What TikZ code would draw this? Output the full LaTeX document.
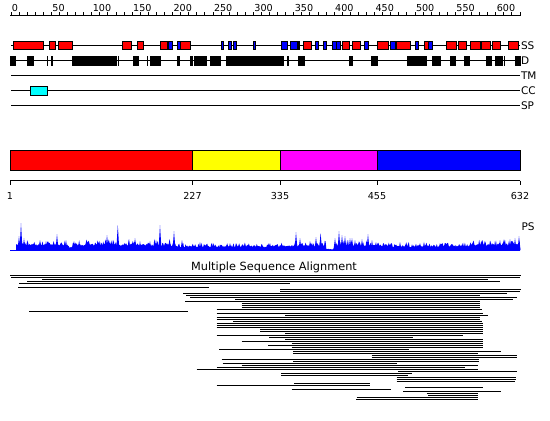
\documentclass[tikz,border=0pt]{standalone}
\usepackage{fontspec}
\setmainfont{DejaVu Sans}
\definecolor{mag}{RGB}{255,0,255}
\definecolor{cyn}{RGB}{0,255,255}
\definecolor{rd}{RGB}{255,0,0}
\definecolor{bl}{RGB}{0,0,255}
\definecolor{yl}{RGB}{255,255,0}
\begin{document}
\begin{tikzpicture}[x=1pt,y=-1pt,line width=1pt,
  lbl/.style={inner sep=0pt,font=\fontsize{9.6}{11}\selectfont},
  featlbl/.style={inner sep=0pt,font=\fontsize{10.5}{12}\selectfont,anchor=west},
  ssbox/.style={draw=black,line width=1pt},
  msa/.style={draw=black,line width=1pt},
  declare function={mfac(\t)=1+0.15*(\t<170)-0.2*(\t>170)*(\t<290)-0.15*(\t>380)*(\t<470)+0.15*(\t>470)-0.85*(abs(\t-330)<4)-0.6*(abs(\t-70)<2);}
]
\useasboundingbox (0,0) rectangle (550,421);
\fill[white] (0,0) rectangle (550,421);

% ---- top ruler
\draw (10,15.5) -- (521,15.5);
\foreach \r in {0,10,...,630} \draw ({11+\r*0.808},12) -- ({11+\r*0.808},15.5);
\foreach \r in {0,50,...,600} \node[lbl,anchor=base west] (rl\r) at ({11.5+\r*0.808},11.5) {\r};

% ---- feature tracks
\foreach \y in {45.5,60.5,75.5,90.5,105.5} \draw (11,\y) -- (520,\y);
% SS helices (red)
\foreach \a/\b in {13.3/43.3,49.3/55.3,58.7/72.3,122.7/131.7,137.3/143.7,160.3/167.7,180/190.3,303/311.5,342.3/349.5,352.3/360.5,377.5/388.5,396.5/410.5,424/428.3,446.5/456,458/466.5,470.5/480.5,481/490,492/500.5,508.5/518}
  \filldraw[ssbox,fill=rd] (\a,41) rectangle (\b,49.5);
% SS strands (blue)
\foreach \a/\b in {168.3/172,177.7/180,221.3/223.5,228.3/231.3,233.3/236.3,253.3/255.5,281.7/287.5,290.7/297,298/299.3,315.3/318.7,323.3/326.5,332.3/336,336/340.5,364.3/368.7,390/395,415.7/418.5,428.3/432.3}
  \filldraw[ssbox,fill=bl] (\a,41) rectangle (\b,49.5);
% Disorder (black)
\foreach \a/\b in {10/15.7,27.3/33.7,47/47.7,51/52.7,72.3/116.7,118/118.7,133.3/138.7,147/147.7,150/160,177.3/179,190/192.7,194.3/206.7,210/215,215.7/220,226/230,230.7/283.5,287.3/288.5,298.3/304.7,349.2/352.7,371/377,407/415.3,415.7/426.7,432/440.5,450/455.7,464.5/469.3,486/491,495.5/502.5,504/504.7,515/520}
  \filldraw[ssbox,fill=black] (\a,56) rectangle (\b,65);
% coiled coil
\filldraw[ssbox,fill=cyn] (30.5,86.5) rectangle (47.5,95);

\node[featlbl] (lss) at (520.5,45.5) {SS};
\node[featlbl] (ld) at (520.5,60.5) {D};
\node[featlbl] (ltm) at (520.5,75.5) {TM};
\node[featlbl] (lcc) at (520.5,90.5) {CC};
\node[featlbl] (lsp) at (520.5,105.5) {SP};

% ---- domain bar
\filldraw[ssbox,fill=rd] (10,150.5) rectangle (192.5,170);
\filldraw[ssbox,fill=yl] (192.5,150.5) rectangle (280,170);
\filldraw[ssbox,fill=mag] (280,150.5) rectangle (377,170);
\filldraw[ssbox,fill=bl] (377,150.5) rectangle (520,170);
\draw (10,180.5) -- (520,180.5);
\foreach \x/\t in {10/1,192.5/227,280/335,377/455,520/632} {
  \draw (\x,180.5) -- (\x,185);
  \node[lbl,anchor=base] (dl\t) at (\x,199) {\t};
}

% ---- PS profile
\pgfmathsetseed{12345}
\fill[bl] (16,250) -- plot[domain=16:520,samples=631] (\x,{250-mfac(\x)*(3.2+2*rnd+5*rnd^3)}) -- (520,250) -- cycle;
\foreach \c/\h in {19/14,21/27,24/12,40/10,46/9,57/16,66/10,74/9,88/9,100/8,107/15,112/10,117.8/25,129/11,135/12,140/9,150/9,160/25,174/19,182/10,200/8,230/7,245/7,270/7,296/18,300/12,310/9,316/13,320.6/17,335/12,339/19,342/15,345/14,348/10,350/12,352/12,355/10,359/9,362/11,368/16,372/10,400/8,420/7,440/7,465/7,480/8,490/9,495/9,500/10,505/10,510/11,515/12,519/14}
  \fill[bl] ({\c-1.5},250) -- (\c,{250-\h}) -- ({\c+1.5},250) -- cycle;
\draw[bl] (10,250) -- (520,250);
\node[featlbl,anchor=base west] (lps) at (521,230) {PS};

% ---- multiple sequence alignment
\node[inner sep=0pt,font=\fontsize{11.3}{13}\selectfont,anchor=base] (msat) at (274,270) {Multiple Sequence Alignment};
\foreach \k/\a/\b in {0/10/520.7,1/11/520,2/42/488.3,3/27/500,4/19/290,6/18/209.3,7/280/520.7,8/280/520,9/183.3/507.3,10/186/480,11/190/516.7,12/235/512.7,13/185/480,14/241.7/480,15/241.7/480,16/241.7/480,17/216.7/481.7,18/29/188,19/216.7/482.7,20/285/488.3,21/216.7/480,22/216.7/480,23/233.3/481.7,24/216.7/482.7,25/216.7/482.7,26/216.7/482.7,27/260/482.7,28/260/482.7,29/285/482.7,30/216.7/463,31/269.3/412.7,32/285/482.7,33/241.7/482.7,34/291.7/482.7,35/268.3/482.7,36/291.7/482.7,37/219.3/409.3,38/293.3/500.7,39/293.3/478.3,40/371.7/517.3,41/371.7/517.3,42/221.7/479.3,43/293.3/479.3,44/222.7/396.7,45/241.7/478.3,46/216.7/465,47/196.7/478.3,48/398.3/517.3,49/281/411.7,50/281/408.3,51/396.7/516,52/396.7/516,53/396.7/515,54/294/370,55/216.7/370,56/405/482.7,57/291.7/390.7,58/403.3/500.7,59/426.7/478.3,60/428.3/478.3,61/356.7/478.3,62/356/478.3}
  \draw[msa] (\a,{275.5+2*\k}) -- (\b,{275.5+2*\k});
\end{tikzpicture}
\end{document}
